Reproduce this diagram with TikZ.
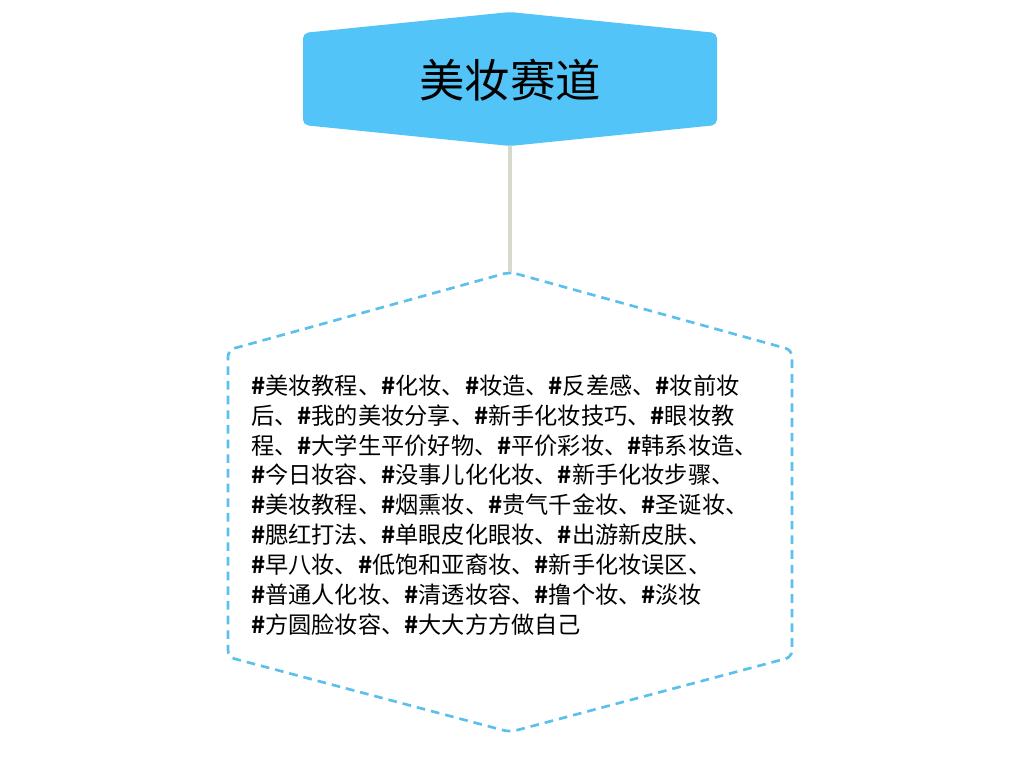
\documentclass[tikz,border=0pt]{standalone}
\usepackage{fontspec}
\setmainfont{Noto Sans CJK SC}
\usepackage{tikz}

\definecolor{kopfblau}{HTML}{52C4F7}
\definecolor{randblau}{HTML}{5BC0EB}
\definecolor{linie}{HTML}{D8D8CC}
\newcommand{\hs}{\textbf{\#}}

\begin{document}
\begin{tikzpicture}
		[
		x=0.75pt, y=-0.75pt, font=\normalsize, >=latex,
		%Stile
		kopf/.style={fill=kopfblau, draw=none, rounded corners=4pt},
		tagrand/.style={draw=randblau, line width=2pt, dash pattern=on 6.5pt off 4.5pt, rounded corners=5pt},
		verbinder/.style={draw=linie, line width=2.8pt}
		]
		
		%Rahmen
		\useasboundingbox (0,0) rectangle (1016,765);
		
		%Kopf-Sechseck
		\fill[kopf] (510,12) -- (717,33) -- (717,125) -- (510,146) -- (303,125) -- (303,33) -- cycle;
		\node (titel) at (510,80) {\fontsize{34pt}{38pt}\selectfont 美妆赛道};
		\coordinate (titelunten) at (510,146);
		
		%Tag-Sechseck
		\draw[tagrand] (510,272) -- (792,350) -- (792,657) -- (510,732) -- (228,657) -- (228,350) -- cycle;
		\coordinate (tagoben) at (510,272);
		\node (tags) [anchor=west, inner sep=0pt, align=left, font=\fontsize{17.4pt}{22.4pt}\selectfont] at (251,505)
		{\hs 美妆教程、\hs 化妆、\hs 妆造、\hs 反差感、\hs 妆前妆\\
		后、\hs 我的美妆分享、\hs 新手化妆技巧、\hs 眼妆教\\
		程、\hs 大学生平价好物、\hs 平价彩妆、\hs 韩系妆造、\\
		\hs 今日妆容、\hs 没事儿化化妆、\hs 新手化妆步骤、\\
		\hs 美妆教程、\hs 烟熏妆、\hs 贵气千金妆、\hs 圣诞妆、\\
		\hs 腮红打法、\hs 单眼皮化眼妆、\hs 出游新皮肤、\\
		\hs 早八妆、\hs 低饱和亚裔妆、\hs 新手化妆误区、\\
		\hs 普通人化妆、\hs 清透妆容、\hs 撸个妆、\hs 淡妆\\
		\hs 方圆脸妆容、\hs 大大方方做自己};
		
		%Verbindung
		\draw[verbinder] (titelunten) -- (tagoben);
		
	\end{tikzpicture}
\end{document}
